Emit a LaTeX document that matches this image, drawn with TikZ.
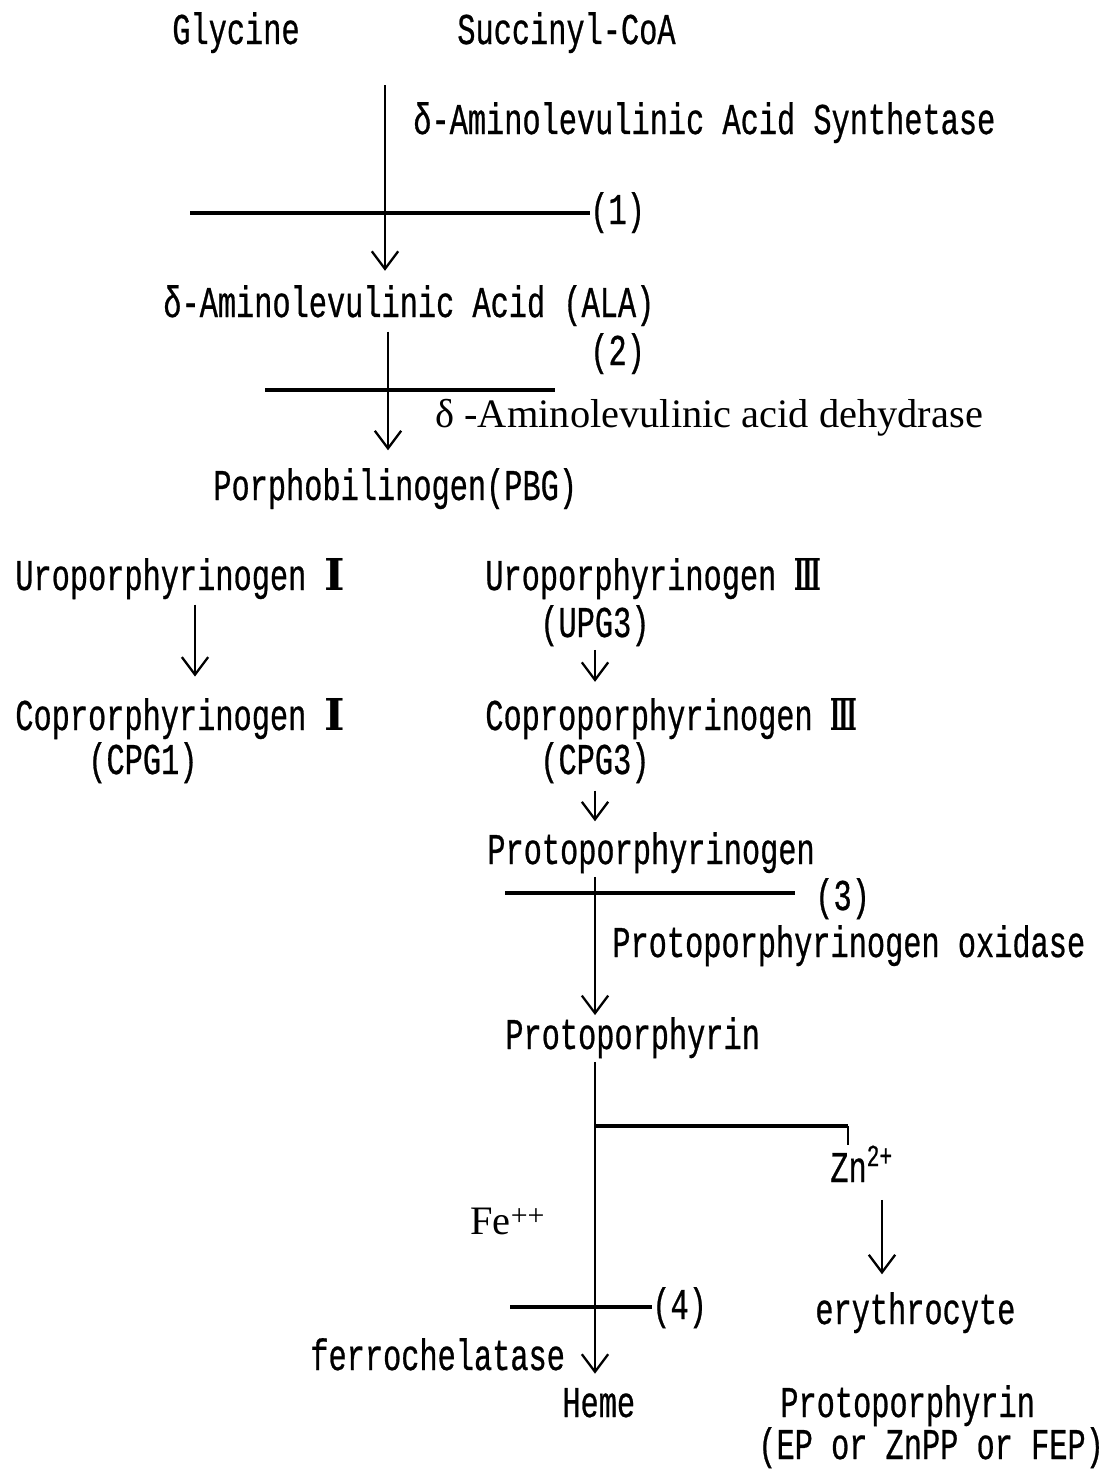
\documentclass[tikz,border=0pt]{standalone}
\usepackage{fontspec}
\usetikzlibrary{arrows.meta}
\newfontfamily\typefont[FakeStretch=0.69, FakeBold=0.6]{Liberation Mono}
\newfontfamily\enzfont{Liberation Serif}
\newfontfamily\romfont{DejaVu Serif}
\newcommand{\rom}[1]{{\romfont\bfseries #1}}
\newcommand{\romiii}{\scalebox{0.5}[1]{\rom{Ⅲ}}}

\tikzset{
	txt/.style={font=\typefont\fontsize{25}{28}\selectfont, inner sep=0pt, anchor=base west},
	enz/.style={font=\enzfont\fontsize{23}{27}\selectfont, inner sep=0pt, anchor=base west},
	rxn/.style={line width=1.2pt, -{Straight Barb[length=10pt, width=15pt, line width=1.3pt]}},
	stem/.style={line width=1.2pt},
	block/.style={line width=2pt}
}

\begin{document}
\begin{tikzpicture}[x=0.02cm, y=-0.02cm]
	\useasboundingbox (0,0) rectangle (1105,1471);
	
	% 底物
	\node[txt] (gly) at (172,44) {Glycine};
	\node[txt] (suc) at (457,44) {Succinyl-CoA};
	\node[txt] (alas) at (413,134) {δ-Aminolevulinic Acid Synthetase};
	\node[txt] (n1) at (590,224) {(1)};
	\node[txt] (ala) at (163,317) {δ-Aminolevulinic Acid (ALA)};
	\node[txt] (n2) at (590,365) {(2)};
	\node[enz] (alad) at (435,427) {δ -Aminolevulinic acid dehydrase};
	\node[txt] (pbg) at (213,500) {Porphobilinogen(PBG)};
	
	% 左右两支
	\node[txt] (uro1) at (15,590) {Uroporphyrinogen \rom{Ⅰ}};
	\node[txt] (copro1) at (15,730) {Coprorphyrinogen \rom{Ⅰ}};
	\node[txt] (cpg1) at (88,774) {(CPG1)};
	\node[txt] (uro3) at (485,590) {Uroporphyrinogen \romiii};
	\node[txt] (upg3) at (540,637) {(UPG3)};
	\node[txt] (copro3) at (485,730) {Coproporphyrinogen \romiii};
	\node[txt] (cpg3) at (540,774) {(CPG3)};
	\node[txt] (protogen) at (487,864) {Protoporphyrinogen};
	\node[txt] (n3) at (815,910) {(3)};
	\node[txt] (ppox) at (612,957) {Protoporphyrinogen oxidase};
	\node[txt] (pp) at (505,1049) {Protoporphyrin};
	
	% 末端
	\node[txt] (zn) at (830,1182) {Zn\textsuperscript{2+}};
	\node[enz] (fe) at (470,1234) {Fe\raisebox{0.45ex}{\fontsize{17}{17}\selectfont ++}};
	\node[txt] (n4) at (652,1319) {(4)};
	\node[txt] (ery) at (815,1324) {erythrocyte};
	\node[txt] (fech) at (310,1370) {ferrochelatase};
	\node[txt] (heme) at (562,1417) {Heme};
	\node[txt] (pp2) at (780,1417) {Protoporphyrin};
	\node[txt] (ep) at (758,1459) {(EP or ZnPP or FEP)};
	
	% 竖线位置
	\coordinate (c1) at (385,0);
	\coordinate (c2) at (388,0);
	\coordinate (c3) at (195,0);
	\coordinate (c4) at (595,0);
	\coordinate (c5) at (882,0);
	
	% 反应箭头
	\draw[rxn, shorten <=18pt, shorten >=8pt] (c1 |- suc.south) -- (c1 |- ala.north);
	\draw[rxn, shorten <=3pt, shorten >=10pt] (c2 |- ala.south) -- (c2 |- pbg.north);
	\draw[rxn, shorten <=3pt, shorten >=12pt] (c3 |- uro1.south) -- (c3 |- copro1.north);
	\draw[rxn, shorten <=2pt, shorten >=9pt] (c4 |- upg3.south) -- (c4 |- copro3.north);
	\draw[rxn, shorten <=4pt, shorten >=6pt] (c4 |- cpg3.south) -- (c4 |- protogen.north);
	\draw[rxn, shorten <=2pt, shorten >=1pt] (c4 |- protogen.south) -- (c4 |- pp.north);
	\draw[rxn, shorten <=2pt, shorten >=8pt] (c4 |- pp.south) -- (c4 |- heme.north);
	\draw[rxn, shorten <=10pt, shorten >=10pt] (c5 |- zn.south) -- (c5 |- ery.north);
	
	% 阻断线
	\coordinate (b1) at (190,213);
	\coordinate (b2) at (265,390);
	\coordinate (b2e) at (555,390);
	\coordinate (b3) at (505,893);
	\coordinate (b3e) at (795,893);
	\coordinate (b4) at (510,1307);
	\draw[block] (b1) -- (b1 -| n1.west);
	\draw[block] (b2) -- (b2e);
	\draw[block] (b3) -- (b3e);
	\draw[block] (b4) -- (b4 -| n4.west);
	
	% 锌分支
	\coordinate (j) at (595,1126);
	\coordinate (k) at (848,1126);
	\draw[block] (j) -- (k);
	\draw[stem] (k) -- (k |- zn.north);
\end{tikzpicture}
\end{document}
